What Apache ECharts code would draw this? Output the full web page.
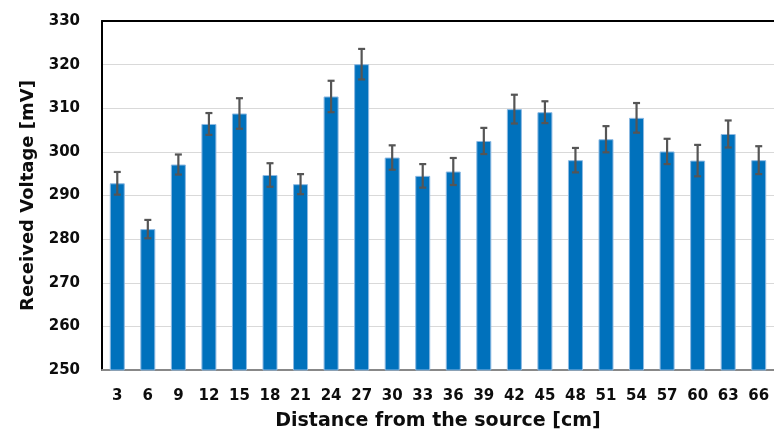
<!DOCTYPE html>
<html>
<head>
<meta charset="utf-8">
<script src="https://cdn.jsdelivr.net/npm/echarts@6/dist/echarts.min.js"></script>
<style>
html,body{margin:0;padding:0;background:#fff;}
#c{width:774px;height:436px;}
</style>
</head>
<body>
<div id="c"></div>
<script>
const distances = ['3','6','9','12','15','18','21','24','27','30','33','36','39','42','45','48','51','54','57','60','63','66'];
const voltage = [292.8, 282.3, 297.1, 306.4, 308.8, 294.7, 292.6, 312.7, 320.1, 298.7, 294.5, 295.5, 302.5, 309.8, 309.1, 298.1, 302.9, 307.8, 300.1, 298.0, 304.1, 298.1];
const voltageError = [2.6, 2.1, 2.3, 2.5, 3.5, 2.7, 2.3, 3.6, 3.5, 2.8, 2.7, 3.1, 3.0, 3.3, 2.5, 2.8, 3.0, 3.4, 2.9, 3.6, 3.1, 3.2];
const yTicks = [250, 260, 270, 280, 290, 300, 310, 320, 330];

const errData = voltage.map((v, i) => [i, v - voltageError[i], v + voltageError[i]]);
const FONT = 'DejaVu Sans';
const chart = echarts.init(document.getElementById('c'), null, {renderer: 'canvas'});
chart.setOption({
  animation: false,
  backgroundColor: '#fff',
  grid: {left: 102, right: -4, top: 21, bottom: 66, containLabel: false},
  xAxis: [{
    type: 'category',
    data: distances,
    position: 'bottom',
    axisLine: {show: true, lineStyle: {color: '#888', width: 2}},
    axisTick: {show: false},
    axisLabel: {color: '#0d0d0d', fontFamily: FONT, fontWeight: 'bold', fontSize: 15, margin: 19, interval: 0},
    name: 'Distance from the source [cm]',
    nameLocation: 'middle',
    nameGap: 42,
    nameTextStyle: {color: '#0d0d0d', fontFamily: FONT, fontWeight: 'bold', fontSize: 19}
  }, {
    type: 'category',
    data: distances,
    position: 'top',
    axisLine: {show: true, lineStyle: {color: '#000', width: 2}},
    axisTick: {show: false},
    axisLabel: {show: false}
  }],
  yAxis: {
    type: 'value',
    min: yTicks[0],
    max: yTicks[yTicks.length - 1],
    interval: 10,
    axisLine: {show: true, lineStyle: {color: '#000', width: 2}},
    axisTick: {show: false},
    splitLine: {show: true, lineStyle: {color: '#d9d9d9', width: 1}},
    axisLabel: {color: '#0d0d0d', fontFamily: FONT, fontWeight: 'bold', fontSize: 15, margin: 22},
    name: 'Received Voltage [mV]',
    nameLocation: 'middle',
    nameGap: 64,
    nameTextStyle: {color: '#0d0d0d', fontFamily: FONT, fontWeight: 'bold', fontSize: 18}
  },
  series: [{
    type: 'bar',
    data: voltage,
    barWidth: 15,
    itemStyle: {color: '#0071BC', borderColor: '#8DB9E2', borderWidth: 1},
    z: 2
  }, {
    type: 'custom',
    data: errData,
    encode: {x: 0, y: [1, 2]},
    z: 5,
    renderItem: function (params, api) {
      const idx = api.value(0);
      const lo = api.coord([idx, api.value(1)]);
      const hi = api.coord([idx, api.value(2)]);
      const hw = 3.5;
      const style = {stroke: '#555555', lineWidth: 2.2, fill: null};
      return {
        type: 'group',
        children: [
          {type: 'line', shape: {x1: lo[0], y1: lo[1], x2: hi[0], y2: hi[1]}, style: style},
          {type: 'line', shape: {x1: lo[0] - hw, y1: lo[1], x2: lo[0] + hw, y2: lo[1]}, style: style},
          {type: 'line', shape: {x1: hi[0] - hw, y1: hi[1], x2: hi[0] + hw, y2: hi[1]}, style: style}
        ]
      };
    }
  }]
});
</script>
</body>
</html>
